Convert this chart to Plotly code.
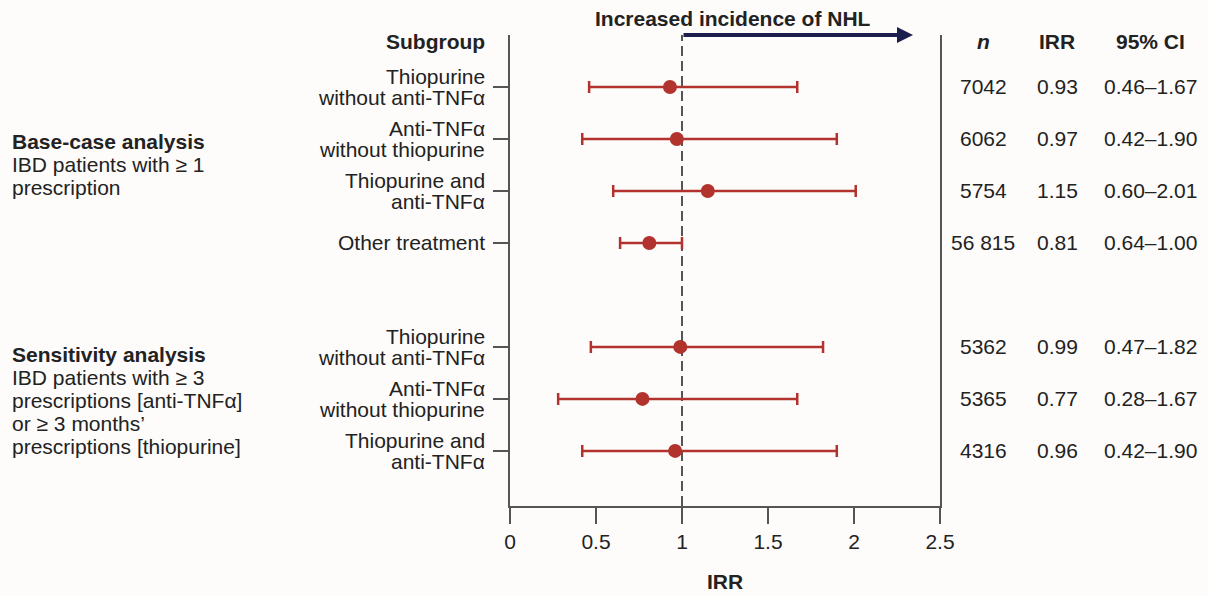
import plotly.graph_objects as go

# ---------------- data ----------------
analysis = ["Base-case", "Base-case", "Base-case", "Base-case",
            "Sensitivity", "Sensitivity", "Sensitivity"]
subgroup_lines = [
    ["Thiopurine", "without anti-TNFα"],
    ["Anti-TNFα", "without thiopurine"],
    ["Thiopurine and", "anti-TNFα"],
    ["Other treatment"],
    ["Thiopurine", "without anti-TNFα"],
    ["Anti-TNFα", "without thiopurine"],
    ["Thiopurine and", "anti-TNFα"],
]
n_values = ["7042", "6062", "5754", "56 815", "5362", "5365", "4316"]
irr = [0.93, 0.97, 1.15, 0.81, 0.99, 0.77, 0.96]
ci_low = [0.46, 0.42, 0.60, 0.64, 0.47, 0.28, 0.42]
ci_high = [1.67, 1.90, 2.01, 1.00, 1.82, 1.67, 1.90]
ci_text = ["0.46–1.67", "0.42–1.90", "0.60–2.01", "0.64–1.00",
           "0.47–1.82", "0.28–1.67", "0.42–1.90"]
irr_text = ["0.93", "0.97", "1.15", "0.81", "0.99", "0.77", "0.96"]

base_lines = ["<b>Base-case analysis</b>", "IBD patients with ≥ 1", "prescription"]
sens_lines = ["<b>Sensitivity analysis</b>", "IBD patients with ≥ 3",
              "prescriptions [anti-TNFα]", "or ≥ 3 months’",
              "prescriptions [thiopurine]"]

x_ticks = [0, 0.5, 1, 1.5, 2, 2.5]
x_ticktext = ["0", "0.5", "1", "1.5", "2", "2.5"]

# ---------------- styling ----------------
RED = "#b2322d"
NAVY = "#1c1f4d"
AXIS = "#555555"
TXT = "#222222"
BG = "#fdfcfa"
FONT = "Liberation Sans, Arial, Helvetica, sans-serif"
FS = 21

W, H = 1208, 596
L, R, T, B = 510, 268, 35, 90
PW = W - L - R
PH = H - T - B


def px(xpix):
    return (xpix - L) / PW


def py(ypix):
    return 1 - (ypix - T) / PH


keys = [f"{a}|{' '.join(s)}" for a, s in zip(analysis, subgroup_lines)]
spacer = " "
cat_order = keys[:4] + [spacer] + keys[4:]

fig = go.Figure()

fig.add_trace(go.Scatter(
    x=irr, y=keys, mode="markers",
    marker=dict(color=RED, size=14),
    error_x=dict(type="data", symmetric=False,
                 array=[h - v for h, v in zip(ci_high, irr)],
                 arrayminus=[v - l for v, l in zip(irr, ci_low)],
                 color=RED, thickness=2.5, width=6),
    hoverinfo="skip",
))

# reference line at IRR = 1
fig.add_shape(type="line", xref="x", yref="paper", x0=1, x1=1, y0=0, y1=1,
              line=dict(color=AXIS, width=2, dash="10px,5px"), layer="below")

ann = []
# subgroup labels
for k, lines in zip(keys, subgroup_lines):
    if len(lines) == 1:
        shifts = [0]
    else:
        shifts = [10, -11]
    for line, s in zip(lines, shifts):
        ann.append(dict(xref="paper", yref="y", x=0, y=k, text=line,
                        xanchor="right", yanchor="middle", xshift=-23, yshift=s,
                        showarrow=False, font=dict(size=FS, color=TXT)))

# table columns
for k, nv, iv, cv in zip(keys, n_values, irr_text, ci_text):
    for xp, t in ((983, nv), (1057, iv), (1150, cv)):
        ann.append(dict(xref="paper", yref="y", x=px(xp), y=k, text=t,
                        xanchor="center", yanchor="middle", showarrow=False,
                        font=dict(size=FS, color=TXT)))

# headers
for xp, t, anchor in ((487, "<b>Subgroup</b>", "right"), (983, "<b><i>n</i></b>", "center"),
                      (1057, "<b>IRR</b>", "center"), (1150, "<b>95% CI</b>", "center")):
    ann.append(dict(xref="paper", yref="paper", x=px(xp), y=py(41), text=t,
                    xanchor=anchor, yanchor="middle", showarrow=False,
                    font=dict(size=FS, color=TXT)))

# group descriptions
for lines, ys in ((base_lines, [142, 165, 188]), (sens_lines, [354, 377, 400, 423, 446])):
    for line, yp in zip(lines, ys):
        ann.append(dict(xref="paper", yref="paper", x=px(10), y=py(yp), text=line,
                        xanchor="left", yanchor="middle", showarrow=False,
                        font=dict(size=FS, color=TXT)))

# title + arrow
ann.append(dict(xref="paper", yref="paper", x=px(733), y=py(18),
                text="<b>Increased incidence of NHL</b>", xanchor="center",
                yanchor="middle", showarrow=False, font=dict(size=FS, color=TXT)))
ann.append(dict(xref="x", yref="y domain", x=(913 - L) / PW * 2.5, y=1,
                axref="x", ayref="y domain", ax=1.0, ay=1, text="",
                showarrow=True, arrowhead=2, arrowsize=0.8, arrowwidth=4,
                arrowcolor=NAVY, standoff=0, startstandoff=0))

fig.update_layout(
    width=W, height=H,
    margin=dict(l=L, r=R, t=T, b=B, pad=0, autoexpand=False),
    paper_bgcolor=BG, plot_bgcolor=BG,
    showlegend=False,
    font=dict(family=FONT, size=FS, color=TXT),
    annotations=ann,
    xaxis=dict(range=[0, 2.5], tickvals=x_ticks, ticktext=x_ticktext,
               showline=True, linecolor=AXIS, linewidth=2,
               ticks="outside", ticklen=16, tickwidth=2, tickcolor=AXIS,
               showgrid=False, zeroline=False, automargin=False,
               tickfont=dict(size=FS, color=TXT),
               title=dict(text="<b>IRR</b>", font=dict(size=FS, color=TXT), standoff=22)),
    yaxis=dict(type="category", categoryorder="array", categoryarray=cat_order,
               tickmode="array", tickvals=keys, ticktext=[""] * len(keys),
               range=[8.06, -1], showline=True, mirror=True, linecolor=AXIS,
               linewidth=2, ticks="outside", ticklen=15, tickwidth=2,
               tickcolor=AXIS, showticklabels=False, showgrid=False,
               zeroline=False, automargin=False),
)

fig.write_html("out.html", config={"displayModeBar": False},
               post_script="document.body.style.margin='0';document.body.style.padding='0';")
